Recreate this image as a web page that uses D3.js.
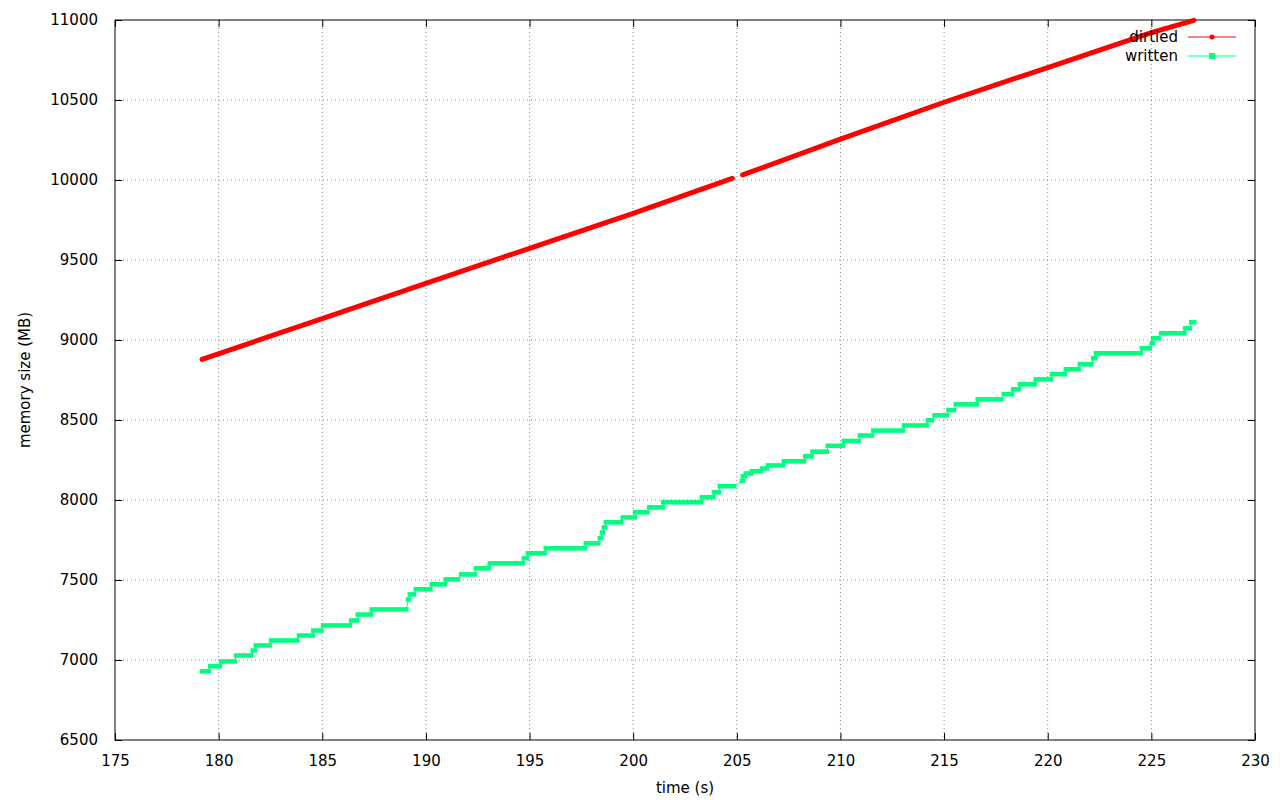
<!DOCTYPE html>
<html><head><meta charset="utf-8">
<script src="https://cdn.jsdelivr.net/npm/d3@7"></script>
<style>
html,body{margin:0;padding:0;background:#fff;}
svg text{font-family:"DejaVu Sans",sans-serif;font-size:15px;fill:#000;}
</style></head>
<body><svg id="c" width="1280" height="800"></svg>
<script>
const xTicks = [175,180,185,190,195,200,205,210,215,220,225,230];
const yTicks = [6500,7000,7500,8000,8500,9000,9500,10000,10500,11000];
const seriesNames = ["dirtied","written"];
const xLabel = "time (s)";
const yLabel = "memory size (MB)";

// dirtied: [time s, MB], two runs separated by a short gap near 205 s
const dirtiedA = [[179.2,8879],[185,9134],[190,9354],[195,9573],[200,9792],[204.78,10010]];
const dirtiedB = [[205.28,10032],[210,10255],[215,10486],[220,10703],[225,10921],[227.05,10998]];

// written: plateaus [start time, end time, MB]
const writtenSteps = [
[179.20,179.52,6929],[179.60,180.05,6961],[180.13,180.77,6991],[180.85,181.57,7028],
[181.65,181.74,7059],[181.80,182.46,7091],[182.54,183.79,7122],[183.89,184.53,7153],
[184.57,184.95,7184],[185.05,186.32,7216],[186.40,186.66,7247],[186.72,187.33,7284],
[187.40,189.05,7316],[189.15,189.17,7378],[189.23,189.42,7410],[189.52,190.21,7442],
[190.29,190.91,7473],[190.97,191.55,7504],[191.71,192.35,7535],[192.42,193.03,7573],
[193.09,194.67,7604],[194.73,194.86,7635],[194.93,195.73,7667],[195.79,197.66,7698],
[197.72,198.30,7729],[198.40,198.43,7762],[198.50,198.53,7797],[198.59,198.63,7829],
[198.69,199.40,7861],[199.50,200.07,7891],[200.10,200.68,7923],[200.78,201.42,7954],
[201.45,203.25,7986],[203.32,203.86,8017],[203.90,204.12,8048],[204.19,204.86,8086],
[205.25,205.30,8119],[205.30,205.38,8148],[205.44,205.70,8166],[205.73,206.15,8180],
[206.24,206.45,8197],[206.51,207.23,8216],[207.28,208.24,8242],[208.31,208.60,8273],
[208.66,209.34,8302],[209.40,210.12,8339],[210.18,210.88,8369],[210.95,211.52,8403],
[211.59,213.00,8434],[213.07,214.16,8466],[214.22,214.41,8498],[214.55,215.13,8529],
[215.22,215.46,8561],[215.57,216.57,8598],[216.63,217.76,8629],[217.89,218.27,8661],
[218.34,218.60,8692],[218.66,219.37,8723],[219.43,220.14,8754],[220.21,220.82,8786],
[220.88,221.49,8817],[221.56,222.10,8848],[222.20,222.28,8886],[222.33,224.48,8917],
[224.55,224.92,8948],[225.03,225.06,8979],[225.09,225.35,9011],[225.48,226.58,9042],
[226.64,226.85,9073],[226.93,227.06,9111]
];

const colors = {dirtied:"#ff0000", written:"#00ff7f"};
const L=115, R=1255, T=20, B=740;
const svg = d3.select("#c");
const x = d3.scaleLinear().domain([175,230]).range([L,R]);
const y = d3.scaleLinear().domain([6500,11000]).range([B,T]);

// grid
const grid = svg.append("g");
xTicks.slice(1,-1).forEach(t=>{
  grid.append("line").attr("x1",x(t)).attr("x2",x(t)).attr("y1",T).attr("y2",B)
    .attr("stroke","#888").attr("stroke-width",1).attr("stroke-dasharray","1,3");
});
yTicks.slice(1,-1).forEach(t=>{
  grid.append("line").attr("x1",L).attr("x2",R).attr("y1",y(t)).attr("y2",y(t))
    .attr("stroke","#888").attr("stroke-width",1).attr("stroke-dasharray","1,3");
});

// axes (inward ticks, mirrored)
const tl = 7;
svg.append("g").attr("transform",`translate(0,${B})`)
  .call(d3.axisBottom(x).tickValues(xTicks).tickSizeInner(-tl).tickSizeOuter(0).tickPadding(tl+8).tickFormat(d3.format("d")))
  .call(g=>{g.select(".domain").remove(); g.selectAll("text").attr("font-size",null);});
svg.append("g").attr("transform",`translate(0,${T})`)
  .call(d3.axisTop(x).tickValues(xTicks).tickSizeInner(-tl).tickSizeOuter(0).tickFormat(""))
  .call(g=>g.select(".domain").remove());
svg.append("g").attr("transform",`translate(${L},0)`)
  .call(d3.axisLeft(y).tickValues(yTicks).tickSizeInner(-tl).tickSizeOuter(0).tickPadding(tl+10).tickFormat(d3.format("d")))
  .call(g=>{g.select(".domain").remove(); g.selectAll("text").attr("font-size",null);});
svg.append("g").attr("transform",`translate(${R},0)`)
  .call(d3.axisRight(y).tickValues(yTicks).tickSizeInner(-tl).tickSizeOuter(0).tickFormat(""))
  .call(g=>g.select(".domain").remove());
svg.selectAll(".tick line").attr("stroke","#000");
svg.selectAll("g").attr("font-family",null);

svg.append("rect").attr("x",L).attr("y",T).attr("width",R-L).attr("height",B-T)
  .attr("fill","none").attr("stroke","#000").attr("stroke-width",1);

// labels
svg.append("text").attr("x",(L+R)/2).attr("y",793).attr("text-anchor","middle").text(xLabel);
svg.append("text").attr("transform",`translate(30,${(T+B)/2}) rotate(-90)`).attr("text-anchor","middle").text(yLabel);

// written series
const wg = svg.append("g");
const wPts = [];
writtenSteps.forEach(s=>{wPts.push([s[0],s[2]]); wPts.push([s[1],s[2]]);});
wg.append("path").attr("d",d3.line().x(d=>x(d[0])).y(d=>y(d[1]))(wPts))
  .attr("fill","none").attr("stroke",colors.written).attr("stroke-width",1);
wg.selectAll("rect").data(writtenSteps).join("rect")
  .attr("x",d=>x(d[0])-2.4).attr("width",d=>x(d[1])-x(d[0])+4.8)
  .attr("y",d=>y(d[2])-2.3).attr("height",4.6).attr("fill",colors.written);

// dirtied series
const line = d3.line().x(d=>x(d[0])).y(d=>y(d[1]));
[dirtiedA,dirtiedB].forEach(seg=>{
  svg.append("path").attr("d",line(seg)).attr("fill","none")
    .attr("stroke",colors.dirtied).attr("stroke-width",5).attr("stroke-linecap","round");
});

// legend
const lg = svg.append("g");
seriesNames.forEach((n,i)=>{
  const yy = 37 + i*19;
  lg.append("text").attr("x",1178).attr("y",yy).attr("dy","0.35em").attr("text-anchor","end").text(n);
  lg.append("line").attr("x1",1188).attr("x2",1236).attr("y1",yy).attr("y2",yy)
    .attr("stroke",colors[n]).attr("stroke-width",1);
  if(n==="dirtied") lg.append("circle").attr("cx",1212).attr("cy",yy).attr("r",2.5).attr("fill",colors[n]);
  else lg.append("rect").attr("x",1209).attr("y",yy-3).attr("width",6).attr("height",6).attr("fill",colors[n]);
});
</script></body></html>
